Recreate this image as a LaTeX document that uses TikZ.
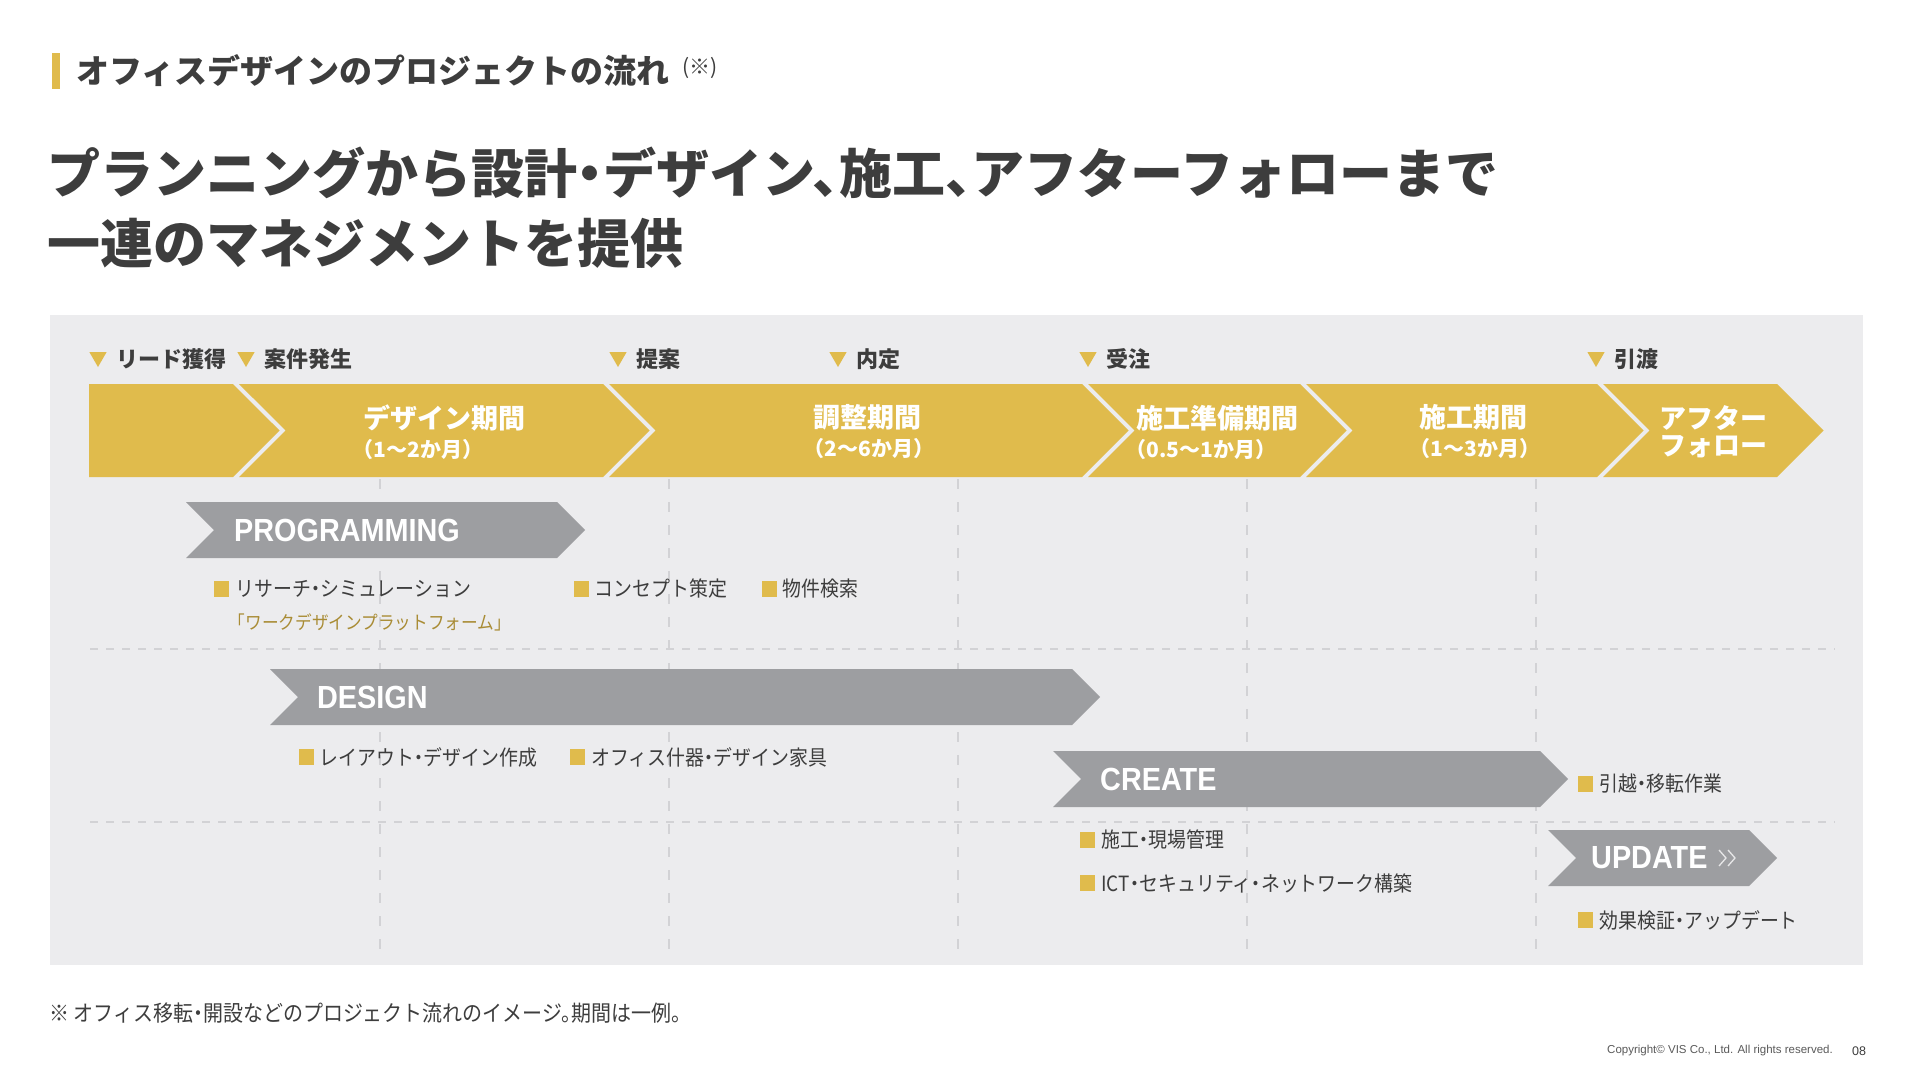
\documentclass[tikz,border=0pt]{standalone}
\usepackage{fontspec}
\usepackage{xcolor}
\setmainfont{Noto Sans CJK JP}
\newfontfamily\jph[RawFeature=+halt]{Noto Sans CJK JP}
\newfontfamily\jpn[FakeStretch=0.9,RawFeature=+halt]{Noto Sans CJK JP}
\newfontfamily\lat{Liberation Sans}
\newfontfamily\latc[FakeStretch=0.9]{Liberation Sans}
\usetikzlibrary{shapes.symbols, shapes.geometric, positioning}

\definecolor{vyellow}{HTML}{E0BB4C}
\definecolor{vgray}{HTML}{9D9EA1}
\definecolor{vpanel}{HTML}{ECECEE}
\definecolor{vdark}{HTML}{3D3D3D}
\definecolor{vgold}{HTML}{A98C35}
\definecolor{vgrid}{HTML}{D2D2D5}

\newcommand{\fsz}[1]{\fontsize{#1}{#1}\selectfont}

\begin{document}
\begin{tikzpicture}[x=1pt, y=-1pt, node distance=6pt]

    % Define style for different elements
    \tikzstyle{period} = [signal, signal to=east, signal from=west, fill=vyellow, minimum height=93pt, inner sep=0pt]
    \tikzstyle{periodtext} = [align=left, inner sep=0pt, text=white, font=\jph\bfseries\fsz{27}]
    \tikzstyle{phase} = [signal, signal to=east, signal from=west, fill=vgray, minimum height=56pt, inner sep=0pt]
    \tikzstyle{phasetext} = [anchor=west, inner sep=0pt, text=white, font=\latc\bfseries\fsz{32}]
    \tikzstyle{marker} = [regular polygon, regular polygon sides=3, shape border rotate=180, fill=vyellow, minimum size=20pt, inner sep=0pt]
    \tikzstyle{markertext} = [inner sep=0pt, text=vdark, font=\jph\bfseries\fsz{22}]
    \tikzstyle{bulletsq} = [rectangle, fill=vyellow, minimum width=15pt, minimum height=16pt, inner sep=0pt]
    \tikzstyle{bullettext} = [inner sep=0pt, text=vdark, font=\jpn\fsz{21}]
    \tikzstyle{gridline} = [vgrid, line width=1.5pt]

    \useasboundingbox (0,0) rectangle (1920,1081);
    \fill[white] (0,0) rectangle (1920,1081);

    % Header and title
    \node (bar) [rectangle, fill=vyellow, minimum width=8pt, minimum height=36pt, inner sep=0pt] at (56,71) {};
    \node (head) [right=16pt of bar, inner sep=0pt, text=vdark, font=\jph\bfseries\fsz{33}] {オフィスデザインのプロジェクトの流れ};
    \node (headnote) [right=12pt of head, yshift=3pt, inner sep=0pt, text=vdark, font=\jph\fsz{21}] {(※)};
    \node (title1) [anchor=west, inner sep=0pt, text=vdark, font=\jph\bfseries\fsz{53}] at (47,173) {プランニングから設計・デザイン、施工、アフターフォローまで};
    \node (title2) [anchor=west, inner sep=0pt, text=vdark, font=\jph\bfseries\fsz{53}] at (47,243) {一連のマネジメントを提供};

    % Panel and grid
    \fill[vpanel] (50,315) rectangle (1863,965);
    \foreach \x in {380,669,958,1247,1536}
        \draw[gridline, dash pattern=on 10pt off 13pt] (\x,479) -- (\x,956);
    \foreach \y in {649,822}
        \draw[gridline, dash pattern=on 8pt off 8pt] (90,\y) -- (1835,\y);

    % Periods
    \node (band0) [period, signal from=nowhere, minimum width=190.5pt] at (161,430.5) {};
    \node (band1) [period, minimum width=410.5pt] at (444.25,430.5) {};
    \node (band2) [period, minimum width=519.5pt] at (868.75,430.5) {};
    \node (band3) [period, minimum width=258.5pt] at (1217.25,430.5) {};
    \node (band4) [period, minimum width=337.5pt] at (1474.75,430.5) {};
    \node (band5) [period, minimum width=220.5pt] at (1713.25,430.5) {};
    \node (lbl1) [periodtext] at ([yshift=-1.5pt]band1.center) {デザイン期間\\[2pt]{\fsz{21}（1～2か月）}};
    \node (lbl2) [periodtext] at ([yshift=-1.5pt]band2.center) {調整期間\\[2pt]{\fsz{21}（2～6か月）}};
    \node (lbl3) [periodtext] at ([yshift=-1.5pt]band3.center) {施工準備期間\\[2pt]{\fsz{21}（0.5～1か月）}};
    \node (lbl4) [periodtext] at ([yshift=-1.5pt]band4.center) {施工期間\\[2pt]{\fsz{21}（1～3か月）}};
    \node (lbl5) [periodtext] at ([yshift=-1.5pt]band5.center) {アフター\\フォロー};

    % Milestones
    \node (mk1) [marker] at (98,357) {};
    \node (mt1) [markertext, right=12pt of mk1, yshift=-2pt] {リード獲得};
    \node (mk2) [marker] at (246,357) {};
    \node (mt2) [markertext, right=12pt of mk2, yshift=-2pt] {案件発生};
    \node (mk3) [marker] at (618,357) {};
    \node (mt3) [markertext, right=12pt of mk3, yshift=-2pt] {提案};
    \node (mk4) [marker] at (838,357) {};
    \node (mt4) [markertext, right=12pt of mk4, yshift=-2pt] {内定};
    \node (mk5) [marker] at (1088,357) {};
    \node (mt5) [markertext, right=12pt of mk5, yshift=-2pt] {受注};
    \node (mk6) [marker] at (1596,357) {};
    \node (mt6) [markertext, right=12pt of mk6, yshift=-2pt] {引渡};

    % Phases
    \node (prog) [phase, minimum width=399pt] at (385.5,530) {};
    \node (progtxt) [phasetext] at (234,530) {PROGRAMMING};
    \node (design) [phase, minimum width=830pt] at (685,697) {};
    \node (designtxt) [phasetext] at (317,697) {DESIGN};
    \node (create) [phase, minimum width=515pt] at (1310.5,779) {};
    \node (createtxt) [phasetext] at (1100,779) {CREATE};
    \node (update) [phase, minimum width=229pt] at (1662.5,858) {};
    \node (updatetxt) [phasetext] at (1591,858) {UPDATE};
    \draw[white!75!vgray, line width=1.3pt] (1719,850) -- (1726,858) -- (1719,866) (1728,850) -- (1735,858) -- (1728,866);

    % Tasks
    \node (sq1) [bulletsq] at (221.5,589) {};
    \node (it1) [bullettext, right=6pt of sq1] {リサーチ・シミュレーション};
    \node (it1b) [bullettext, text=vgold, font=\jpn\fsz{18.5}, anchor=west] at (237,622) {「ワークデザインプラットフォーム」};
    \node (sq2) [bulletsq] at (581,589) {};
    \node (it2) [bullettext, right=6pt of sq2] {コンセプト策定};
    \node (sq3) [bulletsq] at (769,589) {};
    \node (it3) [bullettext, right=6pt of sq3] {物件検索};
    \node (sq4) [bulletsq] at (306,757) {};
    \node (it4) [bullettext, right=6pt of sq4] {レイアウト・デザイン作成};
    \node (sq5) [bulletsq] at (577.5,757) {};
    \node (it5) [bullettext, right=6pt of sq5] {オフィス什器・デザイン家具};
    \node (sq6) [bulletsq] at (1585.5,784) {};
    \node (it6) [bullettext, right=6pt of sq6] {引越・移転作業};
    \node (sq7) [bulletsq] at (1087.5,840) {};
    \node (it7) [bullettext, right=6pt of sq7] {施工・現場管理};
    \node (sq8) [bulletsq] at (1087.5,883) {};
    \node (it8) [bullettext, right=6pt of sq8] {ICT・セキュリティ・ネットワーク構築};
    \node (sq9) [bulletsq] at (1585.5,920) {};
    \node (it9) [bullettext, right=6pt of sq9] {効果検証・アップデート};

    % Footer
    \node (note) [anchor=west, inner sep=0pt, text=vdark, font=\jpn\fsz{22.2}] at (49,1013) {※ オフィス移転・開設などのプロジェクト流れのイメージ。期間は一例。};
    \node (copy) [anchor=west, inner sep=0pt, text=vdark!85, font=\lat\fsz{11.5}] at (1607,1051) {Copyright© VIS Co., Ltd. All rights reserved.};
    \node (page) [right=19pt of copy, inner sep=0pt, text=vdark, font=\lat\fsz{12.5}] {08};

\end{tikzpicture}
\end{document}
